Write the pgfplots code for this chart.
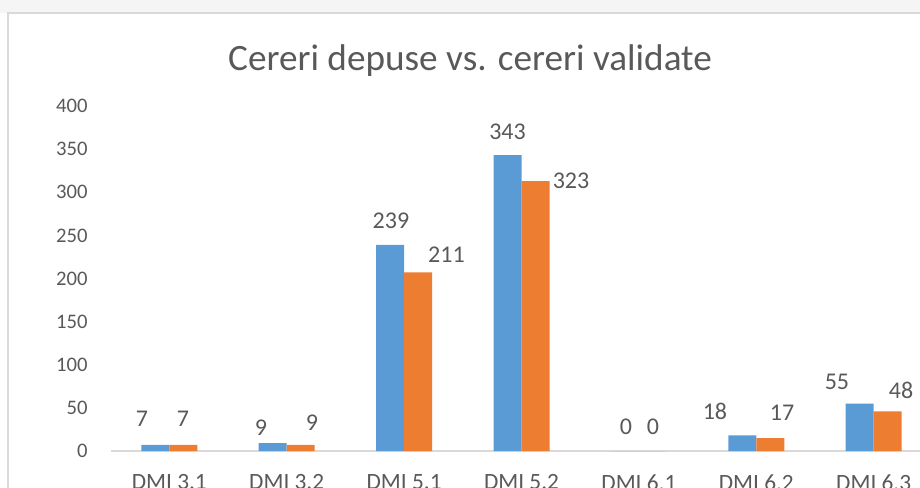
\documentclass[border=0pt]{standalone}
\usepackage{fontspec}
\setmainfont{Carlito}
\usepackage{pgfplots}
\pgfplotsset{compat=1.18}
\usepackage{pgfplotstable}
\definecolor{cblue}{HTML}{5B9BD5}
\definecolor{corange}{HTML}{ED7D31}
\definecolor{ctext}{HTML}{595959}
\definecolor{cline}{HTML}{D9D9D9}

% x = category index, v = bar height, lab = data label text,
% lx/ly = where the data label sits (axis units)
\pgfplotstableread{
x v lab lx ly
0 7 7 -0.233 37.1
1 9 9 0.781 26.7
2 239 239 1.888 267.2
3 343 343 2.881 370.4
4 0 0 3.890 27.8
5 18 18 4.648 46.4
6 55 55 5.687 80.0
}\depuse
\pgfplotstableread{
x v lab lx ly
0 7 7 0.117 37.1
1 7 9 1.216 32.5
2 207 211 2.361 227.2
3 313 323 3.422 313.6
4 0 0 4.120 27.8
5 15 17 5.219 44.1
6 46 48 6.233 70.7
}\validate

\begin{document}
\begin{tikzpicture}[x=0.75pt,y=-0.75pt]
\useasboundingbox (0,0) rectangle (920,488);
\clip (0,0) rectangle (920,488);
\fill[black!4] (0,0) rectangle (920,13);
\draw[cline, line width=1.5pt] (8,500) -- (8,13) -- (940,13);
\node[text=ctext, font=\fontsize{27.9}{32}\selectfont, inner sep=0pt] at (470,61) {Cereri depuse vs. cereri validate};
\begin{axis}[
  at={(82.95pt,-338.25pt)}, anchor=south west,
  scale only axis, width=616.35pt, height=258.75pt,
  xmin=-0.5, xmax=6.5, ymin=0, ymax=400,
  clip=false,
  axis x line*=bottom, axis y line*=left,
  x axis line style={-, draw=cline, line width=0.9pt},
  y axis line style={draw=none},
  tick style={draw=none},
  xtick={0,...,6},
  xticklabels={DMI 3.1, DMI 3.2, DMI 5.1, DMI 5.2, DMI 6.1, DMI 6.2, DMI 6.3},
  ytick={0,50,...,400},
  /pgf/number format/assume math mode=true,
  yticklabel style={anchor=east, inner sep=0pt, xshift=-17pt, text=ctext, font=\fontsize{15.5}{18}\selectfont},
  xticklabel style={anchor=north, inner sep=0pt, yshift=-17.5pt, text=ctext, font=\fontsize{17.5}{20}\selectfont},
  lbl/.style={draw=none, mark=none, nodes near coords, point meta=explicit,
    every node near coord/.append style={anchor=center, inner sep=0pt, text=ctext, font=\fontsize{18}{20}\selectfont}},
]
\addplot[ybar, bar width=21pt, bar shift=-10.5pt, fill=cblue, draw=none] table[x=x, y=v] {\depuse};
\addplot[ybar, bar width=21pt, bar shift=10.5pt, fill=corange, draw=none] table[x=x, y=v] {\validate};
\addplot[lbl] table[x=lx, y=ly, meta=lab] {\depuse};
\addplot[lbl] table[x=lx, y=ly, meta=lab] {\validate};
\end{axis}
\end{tikzpicture}
\end{document}
